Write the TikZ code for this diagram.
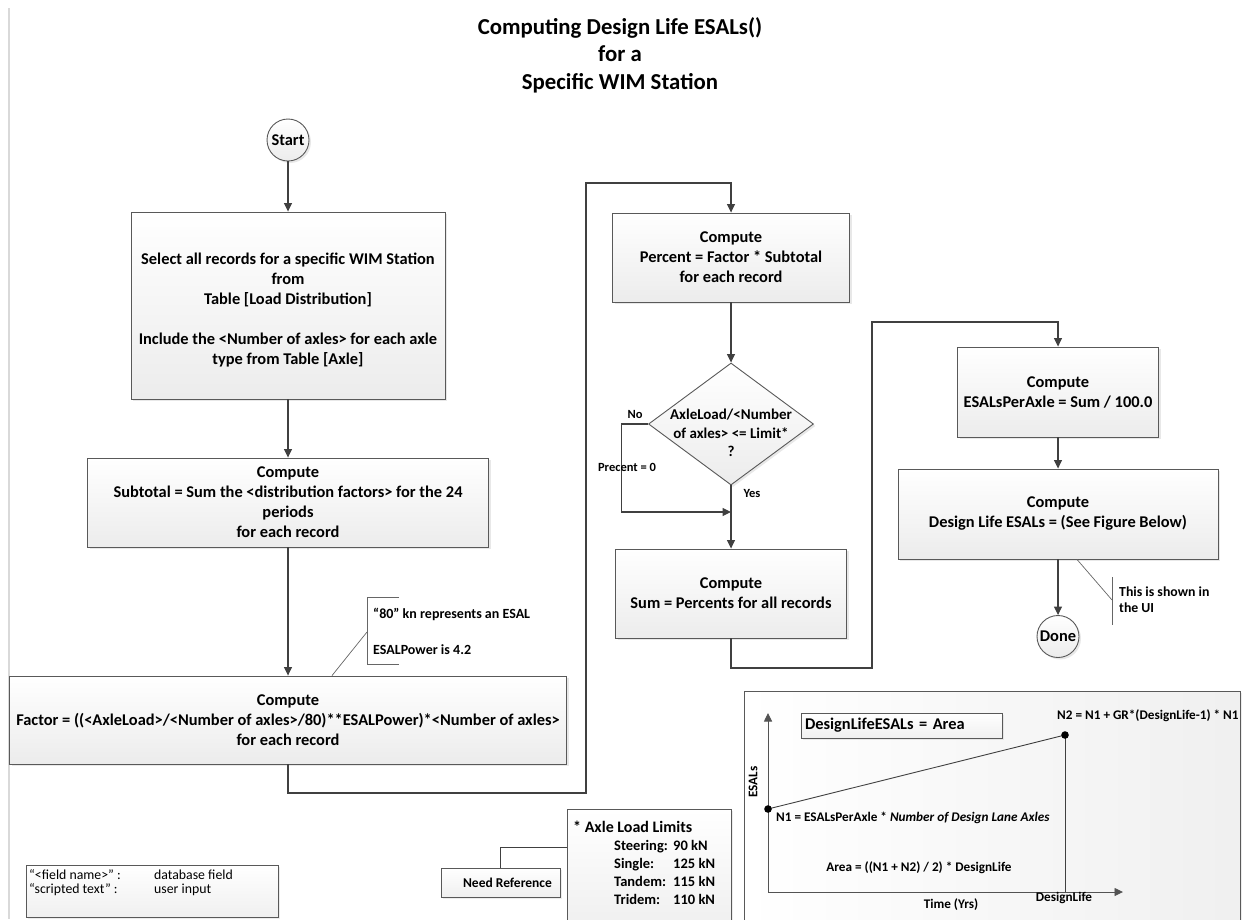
\documentclass[tikz,border=0pt]{standalone}
\usepackage{fontspec}
\setmainfont{Carlito}
\usetikzlibrary{shapes.geometric,arrows.meta,shadows}

\definecolor{boxline}{HTML}{595959}
\definecolor{flowline}{HTML}{404040}

\begin{document}
\begin{tikzpicture}[
    x=1pt, y=-1pt,
    box/.style={rectangle, draw=boxline, line width=0.9pt, top color=white, bottom color=gray!15,
        drop shadow={opacity=0.18, shadow xshift=2pt, shadow yshift=-2pt},
        align=center, inner sep=1pt, font=\bfseries\fontsize{16.4}{20}\selectfont},
    term/.style={box, circle, minimum size=42pt, inner sep=0pt},
    decision/.style={box, diamond, minimum width=165pt, minimum height=122pt, inner sep=0pt},
    note/.style={rectangle, draw=boxline, line width=0.9pt, top color=white, bottom color=gray!12,
        drop shadow={opacity=0.15, shadow xshift=1.5pt, shadow yshift=-1.5pt}, inner sep=0pt},
    title/.style={align=center, font=\bfseries\fontsize{22.8}{27.5}\selectfont},
    lbl/.style={inner sep=0pt, font=\bfseries\fontsize{13.2}{15}\selectfont},
    remark/.style={inner sep=0pt, align=left, font=\bfseries\fontsize{14}{18}\selectfont},
    arrow/.style={-{Triangle[length=8.5pt,width=8pt]}, draw=flowline, line width=1.1pt},
    link/.style={draw=flowline, line width=1pt},
    callout/.style={draw=flowline!80, line width=0.7pt}
]
\useasboundingbox (0,0) rectangle (1244,919);

% Page edge
\draw[gray!30, line width=2pt] (9,8) -- (9,919);

% Title
\node[title] (title) at (620,55) {Computing Design Life ESALs()\\for a\\Specific WIM Station};

% Left column
\node[term] (start) at (288,140) {Start};
\node[box, minimum width=314pt, minimum height=187pt] (select) at (288,305.5)
    {\mbox{}\\Select all records for a specific WIM Station\\from\\Table [Load Distribution]\\[20pt]Include the <Number of axles> for each axle\\type from Table [Axle]};
\node[box, minimum width=401pt, minimum height=89pt] (subtotal) at (288,502.5)
    {Compute\\Subtotal = Sum the <distribution factors> for the 24\\periods\\for each record};
\node[box, minimum width=557pt, minimum height=88pt] (factor) at (288,720)
    {Compute\\Factor = ((<AxleLoad>/<Number of axles>/80)**ESALPower)*<Number of axles>\\for each record};

% Middle column
\node[box, minimum width=237pt, minimum height=89pt] (percent) at (731,257.5)
    {Compute\\Percent = Factor * Subtotal\\for each record};
\node[decision] (limit) at (731,424) {};
\node[align=center, inner sep=0pt, font=\bfseries\fontsize{15}{18.5}\selectfont] (limittxt) at (731,433)
    {AxleLoad/<Number\\of axles> <= Limit*\\?};
\node[box, minimum width=231pt, minimum height=89pt] (sum) at (731,593.5)
    {Compute\\Sum = Percents for all records};

% Right column
\node[box, minimum width=201pt, minimum height=90pt] (peraxle) at (1058,392)
    {Compute\\ESALsPerAxle = Sum / 100.0};
\node[box, minimum width=320pt, minimum height=90pt] (designlife) at (1058,514)
    {Compute\\Design Life ESALs = (See Figure Below)};
\node[term] (done) at (1058,636.5) {Done};

% Connections
\coordinate (c1) at (288,793);
\coordinate (c2) at (586,183);
\coordinate (merge) at (731,512);
\coordinate (c3) at (872,668);
\coordinate (c4) at (872,322);

\draw[arrow] (start) -- (select);
\draw[arrow] (select) -- (subtotal);
\draw[arrow] (subtotal) -- (factor);
\draw[arrow] (factor.south) -- (c1) -| (c2) -- (percent.north |- c2) -- (percent.north);
\draw[arrow] (percent) -- (limit);
\draw[arrow] (limit.west) -- ++(-27,0) |- (merge);
\draw[arrow] (limit.south) -- (sum.north);
\draw[arrow] (sum.south) |- (c3) -- (c4) -- (peraxle.north |- c4) -- (peraxle.north);
\draw[arrow] (peraxle) -- (designlife);
\draw[arrow] (designlife) -- (done);

\node[lbl, font=\bfseries\fontsize{12.5}{15}\selectfont] (no) at (635,414) {No};
\node[lbl, font=\bfseries\fontsize{12.5}{15}\selectfont] (precent) at (627,467) {Precent = 0};
\node[lbl, font=\bfseries\fontsize{12.5}{15}\selectfont] (yes) at (752,493) {Yes};

% Callouts
\node[remark, anchor=west] (esalnote) at (373,631) {“80” kn represents an ESAL\\\mbox{}\\ESALPower is 4.2};
\draw[callout] ([xshift=44pt]factor.north) -- (367,632);
\draw[callout] (399,597) -- (367,597) -- (367,664) -- (399,664);

\node[remark, anchor=west, font=\bfseries\fontsize{13.8}{16}\selectfont] (uinote) at (1119,600) {This is shown in\\the UI};
\draw[callout] ([xshift=19pt]designlife.south) -- (1112,600);
\draw[callout] (1112,577) -- (1112,625);

% Legend
\node[note, minimum width=252pt, minimum height=52pt] (legend) at (152,891) {};
\node[anchor=west, inner sep=0pt, font=\fontsize{13.8}{14}\selectfont] (legendtxt) at (29,884)
    {\begin{tabular}{@{}p{125pt}@{}l@{}}“<field name>” : & database field\\ “scripted text” : & user input\end{tabular}};

% Axle load limits
\node[note, minimum width=119pt, minimum height=29pt, font=\bfseries\fontsize{13.5}{16}\selectfont] (needref) at (500.5,882.5) {\hspace*{14pt}Need Reference};
\node[note, anchor=north west, minimum width=164pt, minimum height=116pt] (limits) at (567,809) {};
\coordinate (lim) at (567,847);
\draw[link] (needref.north) |- (lim);
\node[anchor=west, inner sep=0pt, font=\bfseries\fontsize{16}{18}\selectfont] (limhead) at (573,827) {* Axle Load Limits};
\node[anchor=north west, inner sep=0pt, font=\bfseries\fontsize{14.5}{17.8}\selectfont] (limrows) at (614,838)
    {\begin{tabular}{@{}p{59pt}@{}l@{}}Steering: & 90 kN\\ Single: & 125 kN\\ Tandem: & 115 kN\\ Tridem: & 110 kN\end{tabular}};

% Design life figure
\node[note, anchor=north west, minimum width=496pt, minimum height=235pt, top color=white, bottom color=white,
    left color=white, right color=gray!12] (chart) at (744,691) {};
\coordinate (o) at (768,892);
\coordinate (n1) at (768,809);
\coordinate (n2) at (1065,735);
\draw[arrow, line width=0.9pt, draw=flowline!90] (o) -- (768,713);
\draw[arrow, line width=0.9pt, draw=flowline!90] (o) -- (1123,892);
\draw[link, line width=0.9pt] (n1) -- (n2);
\draw[link, line width=0.9pt] (n2) -- (n2 |- o);
\fill (n1) circle (3.8pt);
\fill (n2) circle (3.8pt);
\node[note, minimum width=201pt, minimum height=25pt, text width=193pt, align=left,
    font=\bfseries\fontsize{16.4}{18}\selectfont] (areabox) at (901.5,725.5) {DesignLifeESALs = Area};
\node[lbl, rotate=90] (esals) at (753,782) {ESALs};
\node[lbl, anchor=west] (n2lbl) at (1057,716) {N2 = N1 + GR*(DesignLife-1) * N1};
\node[lbl, anchor=west] (n1lbl) at (776,818) {N1 = ESALsPerAxle * \textit{Number of Design Lane Axles}};
\node[lbl] (arealbl) at (919,868) {Area = ((N1 + N2) / 2) * DesignLife};
\node[lbl] (time) at (951,905) {Time (Yrs)};
\node[lbl] (dl) at (1064,898) {DesignLife};

\end{tikzpicture}
\end{document}
